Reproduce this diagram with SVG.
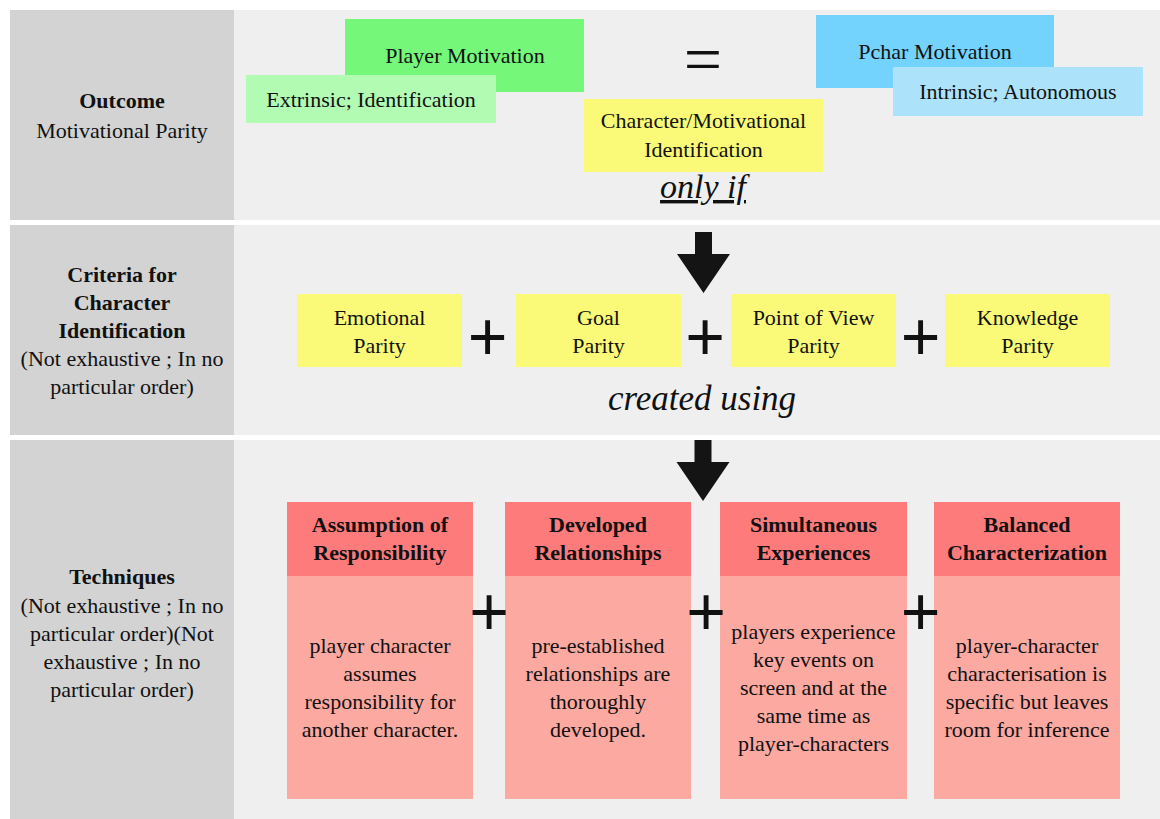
<svg xmlns="http://www.w3.org/2000/svg" width="1160" height="819" viewBox="0 0 1160 819">
  <defs>
    <!-- shared block-arrow shape, placed between rows -->
    <polygon id="block-arrow" points="-8.5,0 8.5,0 8.5,22 26.5,22 0,61 -26.5,22 -8.5,22" fill="#141414"/>
  </defs>

  <rect width="1160" height="819" fill="#ffffff"/>

  <!-- row bands: label column + content panel -->
  <g id="rows">
    <rect x="10" y="10" width="224" height="210" fill="#d3d3d3"/>
    <rect x="234" y="10" width="926" height="210" fill="#efefef"/>
    <rect x="10" y="225" width="224" height="210" fill="#d3d3d3"/>
    <rect x="234" y="225" width="926" height="210" fill="#efefef"/>
    <rect x="10" y="440" width="224" height="379" fill="#d3d3d3"/>
    <rect x="234" y="440" width="926" height="379" fill="#efefef"/>
  </g>

  <!-- row labels -->
  <g id="label-outcome" font-size="22" text-anchor="middle" fill="#111">
    <text font-family="Liberation Serif" font-weight="bold" x="122" y="108">Outcome</text>
    <text font-family="Liberation Serif" x="122" y="138">Motivational Parity</text>
  </g>
  <g id="label-criteria" font-size="22" text-anchor="middle" fill="#111">
    <text font-family="Liberation Serif" font-weight="bold" x="122" y="282">Criteria for</text>
    <text font-family="Liberation Serif" font-weight="bold" x="122" y="310">Character</text>
    <text font-family="Liberation Serif" font-weight="bold" x="122" y="338">Identification</text>
    <text font-family="Liberation Serif" x="122" y="366">(Not exhaustive ; In no</text>
    <text font-family="Liberation Serif" x="122" y="394">particular order)</text>
  </g>
  <g id="label-techniques" font-size="22" text-anchor="middle" fill="#111">
    <text font-family="Liberation Serif" font-weight="bold" x="122" y="584">Techniques</text>
    <text font-family="Liberation Serif" x="122" y="613">(Not exhaustive ; In no</text>
    <text font-family="Liberation Serif" x="122" y="641">particular order)(Not</text>
    <text font-family="Liberation Serif" x="122" y="669">exhaustive ; In no</text>
    <text font-family="Liberation Serif" x="122" y="697">particular order)</text>
  </g>

  <!-- outcome row -->
  <g id="player-motivation" font-size="22" text-anchor="middle" fill="#111">
    <rect x="345" y="19" width="239" height="73" fill="#75f87a"/>
    <text font-family="Liberation Serif" x="465" y="63">Player Motivation</text>
  </g>
  <g id="player-extrinsic" font-size="22" text-anchor="middle" fill="#111">
    <rect x="246" y="75" width="250" height="48" fill="#b1fbb3"/>
    <text font-family="Liberation Serif" x="371" y="107">Extrinsic; Identification</text>
  </g>
  <g id="pchar-motivation" font-size="22" text-anchor="middle" fill="#111">
    <rect x="816" y="15" width="238" height="73" fill="#74d3fd"/>
    <text font-family="Liberation Serif" x="935" y="59">Pchar Motivation</text>
  </g>
  <g id="pchar-intrinsic" font-size="22" text-anchor="middle" fill="#111">
    <rect x="893" y="67" width="250" height="49" fill="#ade2fb"/>
    <text font-family="Liberation Serif" x="1018" y="99">Intrinsic; Autonomous</text>
  </g>
  <g id="equals" text-anchor="middle" fill="#111">
    <text font-family="Liberation Serif" font-size="68" x="703" y="82">=</text>
  </g>
  <g id="character-identification" font-size="22" text-anchor="middle" fill="#111">
    <rect x="584" y="99" width="239" height="73" fill="#fafa78"/>
    <text font-family="Liberation Serif" x="703.5" y="128">Character/Motivational</text>
    <text font-family="Liberation Serif" x="703.5" y="157">Identification</text>
  </g>
  <g id="only-if" text-anchor="middle" fill="#111">
    <text font-family="Liberation Serif" font-style="italic" font-size="34" x="703" y="198" text-decoration="underline">only if</text>
  </g>

  <!-- criteria row -->
  <g id="emotional-parity" font-size="22" text-anchor="middle" fill="#111">
    <rect x="297" y="294" width="165" height="73" fill="#fafa78"/>
    <text font-family="Liberation Serif" x="379.5" y="325">Emotional</text>
    <text font-family="Liberation Serif" x="379.5" y="353">Parity</text>
  </g>
  <g id="goal-parity" font-size="22" text-anchor="middle" fill="#111">
    <rect x="516" y="294" width="165" height="73" fill="#fafa78"/>
    <text font-family="Liberation Serif" x="598.5" y="325">Goal</text>
    <text font-family="Liberation Serif" x="598.5" y="353">Parity</text>
  </g>
  <g id="pov-parity" font-size="22" text-anchor="middle" fill="#111">
    <rect x="731" y="294" width="165" height="73" fill="#fafa78"/>
    <text font-family="Liberation Serif" x="813.5" y="325">Point of View</text>
    <text font-family="Liberation Serif" x="813.5" y="353">Parity</text>
  </g>
  <g id="knowledge-parity" font-size="22" text-anchor="middle" fill="#111">
    <rect x="945" y="294" width="165" height="73" fill="#fafa78"/>
    <text font-family="Liberation Serif" x="1027.5" y="325">Knowledge</text>
    <text font-family="Liberation Serif" x="1027.5" y="353">Parity</text>
  </g>
  <g id="created-using" text-anchor="middle" fill="#111">
    <text font-family="Liberation Serif" font-style="italic" font-size="35" x="702" y="410">created using</text>
  </g>

  <!-- technique cards -->
  <g id="assumption-of-responsibility" font-size="22" text-anchor="middle" fill="#111">
    <rect x="287" y="502" width="186" height="297" fill="#fca9a1"/>
    <rect x="287" y="502" width="186" height="74" fill="#fe7b7b"/>
    <text font-family="Liberation Serif" font-weight="bold" x="380" y="532">Assumption of</text>
    <text font-family="Liberation Serif" font-weight="bold" x="380" y="560">Responsibility</text>
    <text font-family="Liberation Serif" x="380" y="653">player character</text>
    <text font-family="Liberation Serif" x="380" y="681">assumes</text>
    <text font-family="Liberation Serif" x="380" y="709">responsibility for</text>
    <text font-family="Liberation Serif" x="380" y="737">another character.</text>
  </g>
  <g id="developed-relationships" font-size="22" text-anchor="middle" fill="#111">
    <rect x="505" y="502" width="186" height="297" fill="#fca9a1"/>
    <rect x="505" y="502" width="186" height="74" fill="#fe7b7b"/>
    <text font-family="Liberation Serif" font-weight="bold" x="598" y="532">Developed</text>
    <text font-family="Liberation Serif" font-weight="bold" x="598" y="560">Relationships</text>
    <text font-family="Liberation Serif" x="598" y="653">pre-established</text>
    <text font-family="Liberation Serif" x="598" y="681">relationships are</text>
    <text font-family="Liberation Serif" x="598" y="709">thoroughly</text>
    <text font-family="Liberation Serif" x="598" y="737">developed.</text>
  </g>
  <g id="simultaneous-experiences" font-size="22" text-anchor="middle" fill="#111">
    <rect x="720" y="502" width="187" height="297" fill="#fca9a1"/>
    <rect x="720" y="502" width="187" height="74" fill="#fe7b7b"/>
    <text font-family="Liberation Serif" font-weight="bold" x="813.5" y="532">Simultaneous</text>
    <text font-family="Liberation Serif" font-weight="bold" x="813.5" y="560">Experiences</text>
    <text font-family="Liberation Serif" x="813.5" y="639">players experience</text>
    <text font-family="Liberation Serif" x="813.5" y="667">key events on</text>
    <text font-family="Liberation Serif" x="813.5" y="695">screen and at the</text>
    <text font-family="Liberation Serif" x="813.5" y="723">same time as</text>
    <text font-family="Liberation Serif" x="813.5" y="751">player-characters</text>
  </g>
  <g id="balanced-characterization" font-size="22" text-anchor="middle" fill="#111">
    <rect x="934" y="502" width="186" height="297" fill="#fca9a1"/>
    <rect x="934" y="502" width="186" height="74" fill="#fe7b7b"/>
    <text font-family="Liberation Serif" font-weight="bold" x="1027" y="532">Balanced</text>
    <text font-family="Liberation Serif" font-weight="bold" x="1027" y="560">Characterization</text>
    <text font-family="Liberation Serif" x="1027" y="653">player-character</text>
    <text font-family="Liberation Serif" x="1027" y="681">characterisation is</text>
    <text font-family="Liberation Serif" x="1027" y="709">specific but leaves</text>
    <text font-family="Liberation Serif" x="1027" y="737">room for inference</text>
  </g>

  <!-- plus operators between boxes -->
  <g id="operators" font-size="68" text-anchor="middle" fill="#111">
    <text font-family="Liberation Sans" x="487.5" y="360">+</text>
    <text font-family="Liberation Sans" x="705" y="360">+</text>
    <text font-family="Liberation Sans" x="920.5" y="360">+</text>
    <text font-family="Liberation Sans" x="489" y="635">+</text>
    <text font-family="Liberation Sans" x="706" y="635">+</text>
    <text font-family="Liberation Sans" x="920.5" y="635">+</text>
  </g>

  <!-- block arrows between rows -->
  <g id="connectors">
    <use href="#block-arrow" x="703.5" y="232"/>
    <use href="#block-arrow" x="703" y="440"/>
  </g>
</svg>
